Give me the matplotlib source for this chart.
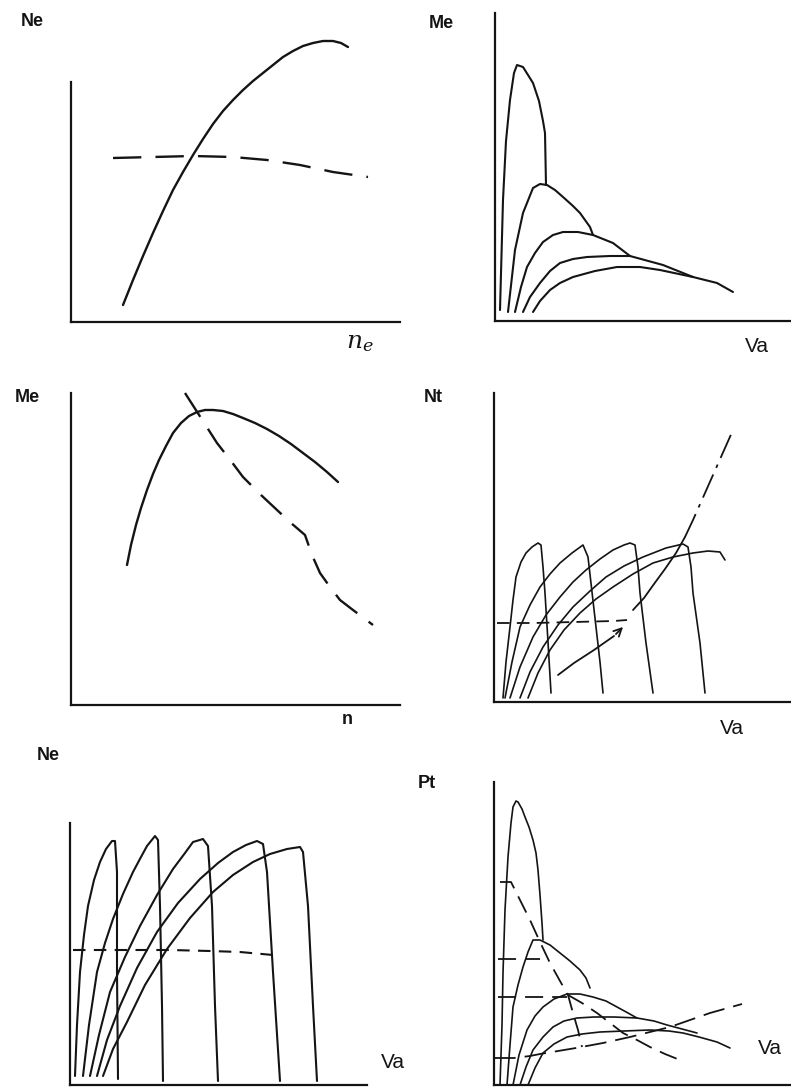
import matplotlib
matplotlib.use('Agg')
import matplotlib.pyplot as plt

plt.rcParams['font.family'] = ['Liberation Sans', 'DejaVu Sans']
plt.rcParams['mathtext.fontset'] = 'dejavuserif'

W, H = 791, 1088
INK = '#141414'

# ---- panel 1: Ne vs n_e ----
p1_solid_x = [52, 62, 72, 82, 92, 102, 112, 122, 132, 142, 152, 162, 172, 182,
              192, 202, 212, 222, 232, 242, 252, 262, 270, 277]
p1_solid_y = [17, 42, 66, 89, 111, 132, 150, 167, 183, 198, 211, 222, 232, 241,
              249, 257, 265, 271, 276, 279, 281, 281, 279, 275]
p1_dash_x = [42, 122, 162, 196, 229, 262, 297]
p1_dash_y = [164, 166, 165, 162, 157, 150, 145]

# ---- panel 2: Me vs Va (five gears) ----
p2_curves = [
    ([5, 8, 11, 15, 19, 22, 28, 38, 44, 48, 50, 51],
     [11, 121, 180, 221, 248, 256, 254, 238, 220, 200, 188, 136]),
    ([13, 20, 28, 38, 45, 52, 60, 68, 78, 85, 95, 98],
     [9, 71, 108, 133, 137, 136, 131, 124, 115, 108, 94, 86]),
    ([20, 26, 32, 40, 48, 58, 68, 83, 98, 118, 135],
     [9, 34, 54, 68, 79, 86, 89, 89, 86, 78, 65]),
    ([28, 35, 45, 55, 65, 78, 92, 115, 135, 168, 198],
     [9, 24, 38, 50, 58, 62, 64, 65, 65, 56, 44]),
    ([38, 45, 55, 65, 78, 100, 122, 145, 165, 198, 222, 238],
     [9, 20, 31, 38, 44, 50, 54, 54, 51, 44, 38, 29]),
]

# ---- panel 3: Me vs n ----
p3_solid_x = [56, 60, 65, 70, 76, 82, 88, 95, 102, 110, 118, 126, 134, 142, 152,
              162, 172, 184, 196, 208, 220, 232, 244, 256, 267]
p3_solid_y = [140, 160, 180, 197, 215, 231, 245, 259, 272, 282, 289, 293, 295, 295, 294,
              291, 287, 282, 276, 269, 261, 252, 243, 233, 223]
p3_dash_x = [114, 130, 146, 160, 172, 190, 206, 220, 234, 241, 249, 259, 269, 282, 302]
p3_dash_y = [312, 287, 262, 244, 228, 210, 195, 182, 170, 150, 132, 118, 105, 95, 80]

# ---- panel 4: Nt vs Va ----
p4_curves = [
    ([9, 12, 16, 19, 22, 27, 32, 38, 44, 47, 49, 51, 54, 57],
     [4, 40, 75, 102, 125, 140, 149, 155, 159, 157, 135, 109, 60, 9]),
    ([11, 18, 26, 36, 46, 56, 66, 78, 89, 94, 98, 102, 106, 109],
     [4, 40, 75, 97, 115, 128, 139, 149, 157, 145, 110, 75, 40, 9]),
    ([16, 26, 39, 52, 66, 79, 92, 106, 119, 130, 136, 141, 144, 146, 152, 159],
     [4, 35, 65, 87, 105, 120, 132, 143, 152, 157, 159, 157, 135, 109, 59, 9]),
    ([26, 36, 49, 64, 79, 96, 112, 130, 149, 172, 189, 194, 197, 199, 206, 211],
     [4, 30, 55, 77, 95, 111, 125, 136, 145, 154, 158, 155, 135, 109, 59, 9]),
    ([34, 44, 56, 70, 86, 102, 119, 139, 159, 179, 199, 214, 226, 231],
     [4, 29, 52, 72, 89, 103, 115, 128, 139, 145, 149, 151, 150, 142]),
]
p4_dash_x = [3, 40, 80, 120, 133]
p4_dash_y = [79, 79, 80, 81, 82]
p4_arrow_x = [64, 80, 100, 120, 131]
p4_arrow_y = [27, 39, 52, 66, 77]
p4_rise_x = [139, 150, 160, 171, 182, 191]
p4_rise_y = [92, 104, 118, 133, 149, 165]
p4_rise2_x = [191, 199, 207, 215, 227, 239]
p4_rise2_y = [165, 182, 200, 218, 245, 272]

# ---- panel 5: Ne vs Va ----
p5_curves = [
    ([5, 7, 10, 14, 18, 24, 30, 36, 42, 45, 47, 47, 48],
     [9, 60, 113, 150, 179, 205, 223, 236, 244, 244, 213, 113, 6]),
    ([13, 19, 27, 35, 43, 53, 63, 71, 77, 85, 88, 90, 92, 93],
     [9, 60, 113, 142, 166, 191, 213, 228, 239, 249, 245, 179, 79, 4]),
    ([20, 29, 40, 55, 70, 87, 103, 115, 123, 133, 138, 142, 145, 148],
     [9, 50, 93, 128, 159, 190, 216, 232, 243, 246, 239, 179, 79, 4]),
    ([27, 37, 50, 67, 87, 108, 130, 148, 163, 176, 187, 193, 197, 203, 210],
     [9, 45, 79, 117, 153, 182, 206, 222, 233, 240, 244, 241, 213, 113, 4]),
    ([33, 43, 57, 75, 97, 120, 143, 163, 183, 200, 217, 230, 233, 238, 243, 247],
     [9, 36, 63, 100, 136, 167, 193, 210, 223, 231, 236, 238, 233, 179, 79, 4]),
]
p5_dash_x = [3, 50, 100, 140, 170, 203]
p5_dash_y = [135, 135, 135, 134, 133, 130]

# ---- panel 6: Pt vs Va ----
p6_curves = [
    ([6, 8, 9, 11, 14, 17, 19, 22, 24, 28, 31, 35, 39, 42, 44, 46, 48, 49],
     [0, 60, 112, 175, 228, 262, 278, 284, 283, 276, 268, 258, 245, 232, 215, 190, 162, 145]),
    ([13, 16, 19, 24, 29, 34, 39, 46, 56, 66, 76, 86, 92, 96],
     [0, 40, 78, 100, 118, 133, 145, 145, 140, 132, 124, 115, 107, 97]),
    ([19, 25, 33, 41, 49, 60, 73, 86, 99, 112, 123, 134, 143],
     [0, 30, 55, 69, 78, 86, 91, 91, 88, 84, 78, 72, 67]),
    ([26, 32, 39, 49, 59, 70, 83, 100, 120, 143, 160, 173, 188, 203],
     [0, 18, 35, 48, 58, 64, 67, 68, 68, 67, 64, 60, 56, 52]),
    ([34, 41, 49, 60, 73, 88, 106, 130, 156, 175, 189, 205, 223, 236],
     [0, 17, 32, 41, 48, 51, 53, 54, 55, 54, 52, 48, 43, 37]),
]
p6_steep_x = [6, 17, 26, 36, 46, 56, 66, 74, 79, 84, 88]
p6_steep_y = [203, 203, 185, 165, 143, 122, 104, 90, 72, 55, 38]
p6_branch_x = [74, 88, 103, 116, 129, 143, 156, 171, 186]
p6_branch_y = [90, 82, 72, 62, 52, 45, 38, 31, 25]
p6_levels_y = [126, 88]
p6_levels_x = [46, 73]
p6_rise_x = [0, 20, 36, 46, 64, 82, 109, 136, 156, 176, 196, 216, 248]
p6_rise_y = [27, 27, 29, 31, 34, 37, 42, 48, 53, 58, 65, 72, 81]


def make_axes(x0, y0, x1, ytop):
    # pixel box of the drawn axis lines -> axes whose data units are pixels
    ax = fig.add_axes([x0 / W, (H - y0) / H, (x1 - x0) / W, (y0 - ytop) / H])
    ax.set_xlim(0, x1 - x0)
    ax.set_ylim(0, y0 - ytop)
    for s in ['top', 'right']:
        ax.spines[s].set_visible(False)
    for s in ['left', 'bottom']:
        ax.spines[s].set_linewidth(1.6)
        ax.spines[s].set_color(INK)
    ax.set_xticks([])
    ax.set_yticks([])
    ax.patch.set_alpha(0)
    return ax


def solid(ax, x, y, lw=1.5):
    ax.plot(x, y, color=INK, lw=lw, clip_on=False,
            solid_capstyle='round', solid_joinstyle='round')


def dashed(ax, x, y, dashes=(10, 5), lw=1.5):
    ax.plot(x, y, color=INK, lw=lw, clip_on=False, dashes=dashes)


fig = plt.figure(figsize=(W / 100, H / 100), dpi=100)

# panel 1
ax1 = make_axes(71, 322, 400, 82)
solid(ax1, p1_solid_x, p1_solid_y, 1.7)
dashed(ax1, p1_dash_x, p1_dash_y, (12, 6), 1.7)

# panel 2
ax2 = make_axes(495, 321, 790, 13)
for cx, cy in p2_curves:
    solid(ax2, cx, cy, 1.5)

# panel 3
ax3 = make_axes(71, 705, 400, 393)
solid(ax3, p3_solid_x, p3_solid_y, 1.7)
dashed(ax3, p3_dash_x, p3_dash_y, (12, 6), 1.7)

# panel 4
ax4 = make_axes(494, 702, 790, 393)
for cx, cy in p4_curves:
    solid(ax4, cx, cy, 1.2)
dashed(ax4, p4_dash_x, p4_dash_y, (7, 4), 1.3)
solid(ax4, p4_arrow_x[:-1], p4_arrow_y[:-1], 1.3)
ax4.annotate('', xy=(p4_arrow_x[-1], p4_arrow_y[-1]),
             xytext=(p4_arrow_x[-2], p4_arrow_y[-2]),
             arrowprops=dict(arrowstyle='->', color=INK, lw=1.3,
                             mutation_scale=14), annotation_clip=False)
solid(ax4, p4_rise_x, p4_rise_y, 1.3)
ax4.plot(p4_rise2_x, p4_rise2_y, color=INK, lw=1.3, clip_on=False,
         dashes=(14, 4, 2, 4))

# panel 5
ax5 = make_axes(70, 1085, 367, 823)
for cx, cy in p5_curves:
    solid(ax5, cx, cy, 1.5)
dashed(ax5, p5_dash_x, p5_dash_y, (6, 4), 1.5)

# panel 6
ax6 = make_axes(494, 1085, 791, 782)
for cx, cy in p6_curves:
    solid(ax6, cx, cy, 1.2)
dashed(ax6, p6_steep_x, p6_steep_y, (10, 5), 1.3)
dashed(ax6, p6_branch_x, p6_branch_y, (10, 5), 1.3)
for lx, ly in zip(p6_levels_x, p6_levels_y):
    dashed(ax6, [4, lx], [ly, ly], (10, 5), 1.3)
dashed(ax6, p6_rise_x, p6_rise_y, (12, 5), 1.3)

# axis labels
lab = dict(fontsize=13, fontweight='bold', color=INK, ha='center', va='center')
va_lab = dict(fontsize=15, color=INK, ha='center', va='center')
fig.text(32 / W, 1 - 22 / H, 'Ne', **lab)
fig.text(360 / W, 1 - 342 / H, r'$\mathit{n_e}$', fontsize=18, color=INK,
         ha='center', va='center')
fig.text(441 / W, 1 - 23 / H, 'Me', **lab)
fig.text(757 / W, 1 - 346 / H, 'Va', **va_lab)
fig.text(27 / W, 1 - 398 / H, 'Me', **lab)
fig.text(347 / W, 1 - 719 / H, 'n', **lab)
fig.text(433 / W, 1 - 397 / H, 'Nt', **lab)
fig.text(732 / W, 1 - 728 / H, 'Va', **va_lab)
fig.text(48 / W, 1 - 756 / H, 'Ne', **lab)
fig.text(393 / W, 1 - 1063 / H, 'Va', **va_lab)
fig.text(427 / W, 1 - 783 / H, 'Pt', **lab)
fig.text(770 / W, 1 - 1048 / H, 'Va', **va_lab)

fig.savefig('out.png', dpi=100)
